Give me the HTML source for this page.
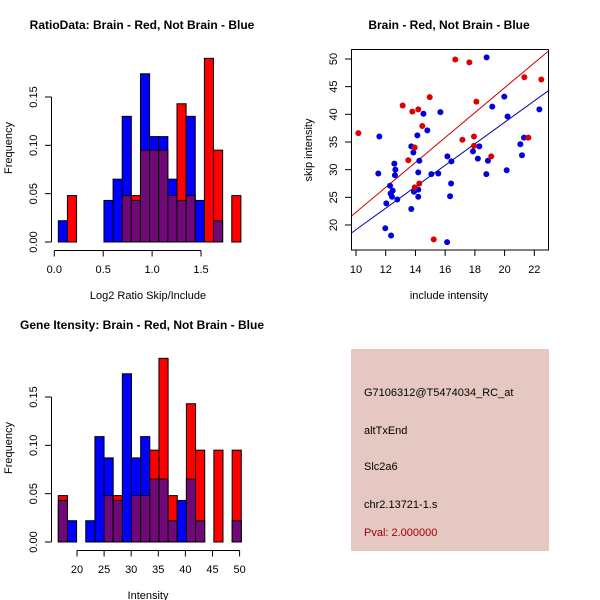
<!DOCTYPE html>
<html><head><meta charset="utf-8"><style>
body{margin:0;background:#fff;}
svg{display:block;font-family:"Liberation Sans",sans-serif;}
</style></head><body>
<svg id="c" width="600" height="600" viewBox="0 0 600 600">
<rect width="600" height="600" fill="#fff"/>
<text x="142" y="29" text-anchor="middle" font-size="12" font-weight="bold">RatioData: Brain - Red, Not Brain - Blue</text>
<text x="449" y="29" text-anchor="middle" font-size="12" font-weight="bold">Brain - Red, Not Brain - Blue</text>
<text x="142" y="329" text-anchor="middle" font-size="12" font-weight="bold">Gene Itensity: Brain - Red, Not Brain - Blue</text>
<text x="148" y="299" text-anchor="middle" font-size="11">Log2 Ratio Skip/Include</text>
<text x="148" y="599" text-anchor="middle" font-size="11">Intensity</text>
<text x="449" y="299" text-anchor="middle" font-size="11">include intensity</text>
<text transform="translate(12,148) rotate(-90)" text-anchor="middle" font-size="11">Frequency</text>
<text transform="translate(12,448) rotate(-90)" text-anchor="middle" font-size="11">Frequency</text>
<text transform="translate(312,150) rotate(-90)" text-anchor="middle" font-size="11">skip intensity</text>
<g>
<rect x="351" y="349" width="198" height="202" fill="#e6c8c2"/>
<text x="364" y="396" font-size="11">G7106312@T5474034_RC_at</text>
<text x="364" y="434" font-size="11">altTxEnd</text>
<text x="364" y="470" font-size="11">Slc2a6</text>
<text x="364" y="508" font-size="11">chr2.13721-1.s</text>
<text x="364" y="536" font-size="11" fill="#a00000">Pval: 2.000000</text>
</g>
</svg>
<script>
// Ratio histogram data
const ratioBlue=[0.022,0,0,0,0,0.043,0.065,0.13,0.043,0.174,0.109,0.109,0.065,0.043,0.13,0.043,0,0.022,0,0];
const ratioRed=[0,0.048,0,0,0,0,0,0.048,0.048,0.095,0.095,0.095,0.048,0.143,0.048,0,0.19,0.095,0,0.048];
const ratioXTicks=[0,0.5,1.0,1.5];
const ratioXLabels=["0.0","0.5","1.0","1.5"];
const freqTicks=[0,0.05,0.10,0.15];
const freqLabels=["0.00","0.05","0.10","0.15"];
// Gene histogram data
const geneBlue=[0.043,0.022,0,0.022,0.109,0.087,0.043,0.174,0.087,0.109,0.065,0.065,0.022,0.043,0.065,0.022,0,0,0,0.022];
const geneRed=[0.048,0,0,0,0,0.048,0.048,0,0.048,0.048,0.095,0.19,0.048,0,0.143,0.095,0,0.095,0,0.095];
const geneXTicks=[20,25,30,35,40,45,50];
// Scatter data
const redX=[10.16,13.14,13.79,14.19,14.46,14.96,13.52,13.95,13.95,14.26,15.23,16.68,17.63,18.1,17.16,17.94,17.94,19.1,21.33,22.47,21.6];
const redY=[36.6,41.6,40.5,40.9,37.9,43.1,31.7,34.0,26.8,27.5,17.4,49.9,49.4,42.3,35.4,36.0,34.3,32.4,46.7,46.3,35.8];
const blueX=[18.79,19.98,19.17,20.2,22.34,21.31,21.06,21.17,20.14,17.87,18.3,18.2,18.88,18.77,15.68,14.54,14.8,14.13,13.72,13.86,14.26,14.19,11.57,11.5,12.58,12.65,12.62,12.29,12.33,12.47,12.42,12.78,12.04,14.19,13.9,14.19,13.72,15.07,15.54,16.15,16.42,16.4,16.33,11.97,12.36,16.13];
const blueY=[50.3,43.2,41.4,39.6,40.9,35.8,34.6,32.6,29.9,33.3,34.2,32.0,31.6,29.2,40.4,40.1,37.1,36.2,34.2,33.1,31.6,29.5,36.0,29.3,31.1,30.0,29.0,27.1,25.7,26.2,25.1,24.6,23.9,26.4,26.0,25.1,22.9,29.2,29.3,32.4,31.5,27.5,25.2,19.4,18.1,16.9];
const redLine=[-0.2,2.25];
const blueLine=[-0.25,1.94];
const scX=[10,12,14,16,18,20,22];
const scY=[20,25,30,35,40,45,50];

const svg=document.getElementById('c');
const NS='http://www.w3.org/2000/svg';
function mk(tag,a,parent){const e=document.createElementNS(NS,tag);for(const k in a)e.setAttribute(k,a[k]);(parent||svg).appendChild(e);return e;}

function hist(oy,blue,red,x0px,bw,xScale,xt,xl,prefix){
  const yS=v=>oy+242-v*966.7;
  const g=mk('g',{});
  
  
  for(let i=0;i<blue.length;i++){
    const x=x0px+i*bw;
    const b=blue[i],r=red[i];
    const hi=Math.max(b,r), lo=Math.min(b,r);
    if(hi>0){
      const e=mk('rect',{x:x,y:yS(hi),width:bw,height:yS(0)-yS(hi),fill:b>=r?'#0000ff':'#ff0000',stroke:'#000','stroke-width':1},g);
      
      
    }
    if(lo>0){
      const e=mk('rect',{x:x,y:yS(lo),width:bw,height:yS(0)-yS(lo),fill:'#700878',stroke:'#000','stroke-width':1},g);
      
      
    }
  }
  mk('line',{x1:51.5,x2:51.5,y1:yS(0),y2:yS(0.15),stroke:'#000'},g);
  freqTicks.forEach((v,i)=>{
    mk('line',{x1:45,x2:51.5,y1:yS(v),y2:yS(v),stroke:'#000'},g);
    const t=mk('text',{transform:`translate(37,${yS(v)}) rotate(-90)`,'text-anchor':'middle','font-size':11},g);
    t.textContent=freqLabels[i];
    
    
  });
  const ay=oy+250.5;
  mk('line',{x1:xScale(xt[0]),x2:xScale(xt[xt.length-1]),y1:ay,y2:ay,stroke:'#000'},g);
  xt.forEach((v,i)=>{
    mk('line',{x1:xScale(v),x2:xScale(v),y1:ay,y2:ay+6,stroke:'#000'},g);
    const t=mk('text',{x:xScale(v),y:oy+273,'text-anchor':'middle','font-size':11},g);
    t.textContent=xl[i];
    
    
  });
}
hist(0,ratioBlue,ratioRed,58.3,9.13,v=>54.3+v*97.8,ratioXTicks,ratioXLabels,'ratio');
hist(300,geneBlue,geneRed,58.3,9.15,v=>77+(v-20)*5.42,geneXTicks,geneXTicks.map(String),'gene');

const sx=v=>356+(v-10)*14.86;
const sy=v=>59+(50-v)*5.533;
const sg=mk('g',{});


const clip=mk('clipPath',{id:'cl'},sg);
mk('rect',{x:351.5,y:49.5,width:197,height:200.5},clip);
mk('rect',{x:351.5,y:49.5,width:197,height:200.5,fill:'none',stroke:'#000'},sg);
scX.forEach(v=>{
  mk('line',{x1:sx(v),x2:sx(v),y1:250,y2:256,stroke:'#000'},sg);
  const t=mk('text',{x:sx(v),y:273,'text-anchor':'middle','font-size':11},sg);
  t.textContent=v;
  
  
});
scY.forEach(v=>{
  mk('line',{x1:345,x2:351.5,y1:sy(v),y2:sy(v),stroke:'#000'},sg);
  const t=mk('text',{transform:`translate(337,${sy(v)}) rotate(-90)`,'text-anchor':'middle','font-size':11},sg);
  t.textContent=v;
  
  
});
function fitLine(c,col,name){
  const e=mk('line',{x1:sx(9),y1:sy(c[0]+c[1]*9),x2:sx(24),y2:sy(c[0]+c[1]*24),stroke:col,'stroke-width':1,'clip-path':'url(#cl)'},sg);
  
  
}
fitLine(redLine,'#cc0000','red-fit-line');
fitLine(blueLine,'#0000aa','blue-fit-line');
blueX.forEach((x,i)=>{
  const e=mk('circle',{cx:sx(x),cy:sy(blueY[i]),r:3,fill:'#0000dd'},sg);
  
  
});
redX.forEach((x,i)=>{
  const e=mk('circle',{cx:sx(x),cy:sy(redY[i]),r:3,fill:'#dd0000'},sg);
  
  
});
</script>
</body></html>
